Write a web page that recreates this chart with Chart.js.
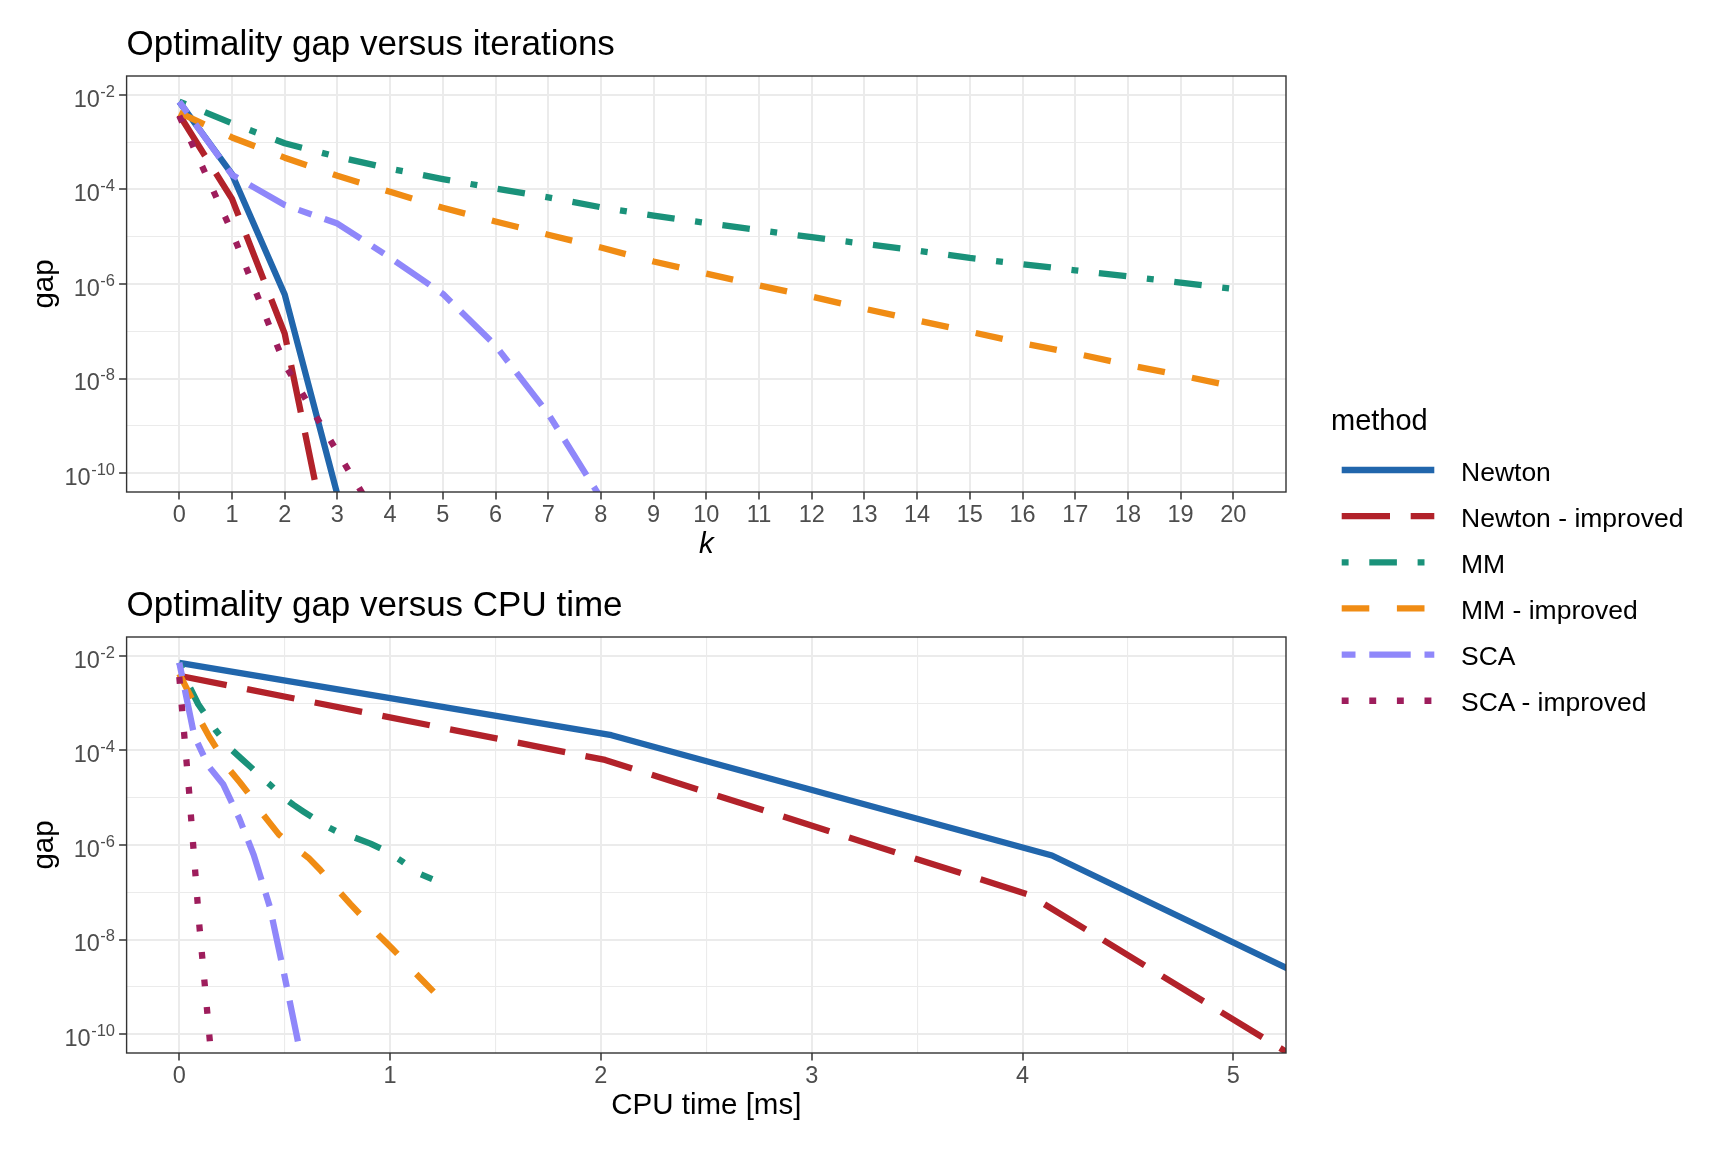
<!DOCTYPE html>
<html>
<head>
<meta charset="utf-8">
<script src="https://cdn.jsdelivr.net/npm/chart.js@4.4.1/dist/chart.umd.min.js"></script>
<style>
  html, body { margin: 0; padding: 0; background: #fff; }
  #page { position: relative; width: 1728px; height: 1152px; overflow: hidden; font-family: "Liberation Sans", Arial, sans-serif; }
  .box { position: absolute; left: 0; width: 1300px; height: 576px; }
  #legend { position: absolute; left: 0; top: 0; pointer-events: none; }
</style>
</head>
<body>
<div id="page">
  <div class="box" style="top:0"><canvas id="iterChart" width="1300" height="576"></canvas></div>
  <div class="box" style="top:576px"><canvas id="timeChart" width="1300" height="576"></canvas></div>
  <svg id="legend" width="1728" height="1152"></svg>
</div>
<script>
const FONT = '"Liberation Sans", Arial, sans-serif';

const methods = ["Newton", "Newton - improved", "MM", "MM - improved", "SCA", "SCA - improved"];

// optimality gap at iteration k = 0, 1, 2, ...
const gapNewton    = [7.1e-3, 2.1e-4, 6.0e-7, 3.5e-11];
const gapNewtonImp = [3.8e-3, 6.3e-5, 8.9e-8, 3.2e-13];
const gapMM = [7.2e-3, 2.5e-3, 9.5e-4, 4.9e-4, 2.75e-4, 1.66e-4, 1.05e-4, 6.8e-5, 4.2e-5, 2.8e-5,
  1.95e-5, 1.38e-5, 9.8e-6, 7.1e-6, 5.1e-6, 3.55e-6, 2.63e-6, 1.95e-6, 1.45e-6, 1.07e-6,
  7.9e-7, 6.0e-7, 4.5e-7, 3.4e-7, 2.5e-7, 1.9e-7];
const gapMMImp = [4.2e-3, 1.26e-3, 4.7e-4, 1.95e-4, 8.9e-5, 4.1e-5, 2.1e-5, 1.1e-5, 5.9e-6, 3.0e-6,
  1.66e-6, 9.3e-7, 5.4e-7, 3.0e-7, 1.7e-7, 9.8e-8, 5.6e-8, 3.4e-8, 1.95e-8, 1.17e-8,
  6.8e-9, 4.0e-9, 2.3e-9, 1.38e-9, 7.9e-10];
const gapSCA    = [7.2e-3, 2.04e-4, 4.7e-5, 1.9e-5, 3.6e-6, 6.2e-7, 5.0e-8, 1.8e-9, 2.95e-11];
const gapSCAImp = [3.6e-3, 1.26e-5, 2.0e-8, 2.8e-10, 4.0e-12];

// cumulative CPU time [ms] at each iteration
const timeNewton    = [0, 2.05, 4.14, 6.12];
const timeNewtonImp = [0, 2.02, 4.03, 6.03];
const timeMM = [0, 0.043, 0.09, 0.134, 0.171, 0.21, 0.247, 0.293, 0.345, 0.386,
  0.427, 0.463, 0.5, 0.541, 0.589, 0.644, 0.688, 0.745, 0.828, 0.907,
  0.97, 1.013, 1.057, 1.095, 1.136, 1.2];
const timeMMImp = [0, 0.059, 0.095, 0.142, 0.19, 0.234, 0.288, 0.337, 0.376, 0.427,
  0.473, 0.541, 0.612, 0.668, 0.715, 0.763, 0.812, 0.858, 0.905, 0.951,
  1.005, 1.055, 1.104, 1.153, 1.206];
const timeSCA    = [0, 0.071, 0.138, 0.209, 0.285, 0.353, 0.429, 0.498, 0.58];
const timeSCAImp = [0, 0.047, 0.095, 0.133, 0.17];

// ticks
const kTicks = [0, 1, 2, 3, 4, 5, 6, 7, 8, 9, 10, 11, 12, 13, 14, 15, 16, 17, 18, 19, 20];
const timeTicks = [0, 1, 2, 3, 4, 5];
const timeMinorTicks = [0.5, 1.5, 2.5, 3.5, 4.5];
const gapTickExps = [-10, -8, -6, -4, -2];
const gapMinorExps = [-9, -7, -5, -3];

const gaps = [gapNewton, gapNewtonImp, gapMM, gapMMImp, gapSCA, gapSCAImp];
const times = [timeNewton, timeNewtonImp, timeMM, timeMMImp, timeSCA, timeSCAImp];

// styles
const colors = ["#2166AC", "#B2222A", "#1A927A", "#F08C14", "#8F87FA", "#9E1D5C"];
const dashes = [[], [7, 3], [1, 3, 4, 3], [4, 4], [2, 2, 6, 2], [1, 3]];
const DASH_UNIT = 6.9;
const LINE_W = 6.3;

function makeDatasets(pointsFor) {
  return methods.map((m, i) => ({
    label: m,
    data: pointsFor(i),
    borderColor: colors[i],
    borderWidth: LINE_W,
    borderDash: dashes[i].map(d => d * DASH_UNIT),
    borderCapStyle: 'butt',
    borderJoinStyle: 'round',
    pointRadius: 0,
    tension: 0,
    fill: false,
    clip: 0,
    order: methods.length - i
  }));
}

const expOf = v => Math.round(Math.log10(v));

const panelBorder = {
  id: 'panelBorder',
  afterDraw(chart) {
    const a = chart.chartArea, ctx = chart.ctx;
    ctx.save();
    ctx.strokeStyle = '#333333';
    ctx.lineWidth = 1.4;
    ctx.strokeRect(a.left, a.top, a.right - a.left, a.bottom - a.top);
    ctx.restore();
  }
};

// "10" with a raised exponent, placed on the y scale ticks
const gapLabels = {
  id: 'gapLabels',
  afterDraw(chart) {
    const ys = chart.scales.y, ctx = chart.ctx;
    const right = chart.chartArea.left - 11.6;
    ctx.save();
    ctx.fillStyle = '#4D4D4D';
    ctx.textBaseline = 'alphabetic';
    gapTickExps.forEach(e => {
      const py = ys.getPixelForValue(Math.pow(10, e));
      const sup = String(e);
      ctx.font = '16.5px ' + FONT;
      const w = ctx.measureText(sup).width;
      ctx.textAlign = 'left';
      ctx.fillText(sup, right - w, py + 1.7);
      ctx.font = '23.5px ' + FONT;
      ctx.textAlign = 'right';
      ctx.fillText('10', right - w - 0.5, py + 11.7);
    });
    ctx.restore();
  }
};

function makeChart(canvasId, opts) {
  return new Chart(document.getElementById(canvasId), {
    type: 'line',
    data: { datasets: opts.datasets },
    options: {
      responsive: false,
      animation: false,
      layout: { padding: opts.padding },
      plugins: {
        legend: { display: false },
        tooltip: { enabled: false },
        title: {
          display: true,
          text: opts.title,
          align: 'start',
          fullSize: false,
          color: '#000',
          font: { family: FONT, size: 35, weight: 'normal' },
          padding: { top: 0, bottom: 9.9 }
        }
      },
      scales: {
        x: {
          type: 'linear',
          min: opts.xMin,
          max: opts.xMax,
          afterBuildTicks: s => { s.ticks = opts.xTicks.map(v => ({ value: v })); },
          afterFit: s => { s.height = 70.5; },
          ticks: {
            autoSkip: false,
            maxRotation: 0,
            padding: 1.5,
            color: '#4D4D4D',
            font: { family: FONT, size: 23.5 },
            callback: v => opts.xMajor.includes(v) ? String(v) : ''
          },
          grid: {
            color: '#EBEBEB',
            lineWidth: c => (c.tick && opts.xMajor.includes(c.tick.value)) ? 2 : 1.1,
            tickLength: 7.5,
            tickWidth: 1.5,
            tickColor: c => (c.tick && opts.xMajor.includes(c.tick.value)) ? '#333333' : 'rgba(0,0,0,0)'
          },
          border: { display: false },
          title: {
            display: true,
            text: opts.xTitle,
            color: '#000',
            font: { family: FONT, size: 29.5, style: opts.xTitleStyle },
            padding: 0
          }
        },
        y: {
          type: 'logarithmic',
          min: Math.pow(10, -10.4),
          max: Math.pow(10, -1.6),
          afterBuildTicks: s => {
            s.ticks = gapTickExps.concat(gapMinorExps).sort((a, b) => a - b)
              .map(e => ({ value: Math.pow(10, e) }));
          },
          afterFit: s => { s.width = 126.6; },
          ticks: { autoSkip: false, padding: 4, callback: () => '' },
          grid: {
            color: '#EBEBEB',
            lineWidth: c => (c.tick && expOf(c.tick.value) % 2 === 0) ? 2 : 1.1,
            tickLength: 7.5,
            tickWidth: 1.5,
            tickColor: c => (c.tick && expOf(c.tick.value) % 2 === 0) ? '#333333' : 'rgba(0,0,0,0)'
          },
          border: { display: false },
          title: {
            display: true,
            text: 'gap',
            color: '#000',
            font: { family: FONT, size: 29.5 },
            padding: { top: 27.3, bottom: 0 }
          }
        }
      }
    },
    plugins: [panelBorder, gapLabels]
  });
}

// top: gap vs iterations (k up to 20)
makeChart('iterChart', {
  title: 'Optimality gap versus iterations',
  xTitle: 'k',
  xTitleStyle: 'italic',
  xMin: -1,
  xMax: 21,
  xTicks: kTicks,
  xMajor: kTicks,
  padding: { left: 0, right: 14, top: 24.1, bottom: 13.5 },
  datasets: makeDatasets(i => gaps[i].map((g, k) => ({ x: k, y: g })).filter(p => p.x <= 20))
});

// bottom: gap vs CPU time
makeChart('timeChart', {
  title: 'Optimality gap versus CPU time',
  xTitle: 'CPU time [ms]',
  xTitleStyle: 'normal',
  xMin: -0.25,
  xMax: 5.25,
  xTicks: timeTicks.concat(timeMinorTicks).sort((a, b) => a - b),
  xMajor: timeTicks,
  padding: { left: 0, right: 14, top: 9.1, bottom: 28.5 },
  datasets: makeDatasets(i => times[i].map((t, k) => ({ x: t, y: gaps[i][k] })))
});

// legend
const svg = document.getElementById('legend');
const NS = 'http://www.w3.org/2000/svg';
function svgEl(tag, attrs, text) {
  const el = document.createElementNS(NS, tag);
  Object.entries(attrs).forEach(([k, v]) => el.setAttribute(k, v));
  if (text) el.textContent = text;
  svg.appendChild(el);
  return el;
}
svgEl('text', { x: 1331, y: 430, 'font-family': FONT, 'font-size': 29, fill: '#000' }, 'method');
methods.forEach((m, i) => {
  const y = 470 + i * 46.15;
  const line = { x1: 1341.7, x2: 1434.3, y1: y, y2: y, stroke: colors[i], 'stroke-width': LINE_W, 'stroke-linecap': 'butt' };
  if (dashes[i].length) line['stroke-dasharray'] = dashes[i].map(d => d * DASH_UNIT).join(' ');
  svgEl('line', line);
  svgEl('text', { x: 1461, y: y + 10.7, 'font-family': FONT, 'font-size': 26.5, fill: '#000' }, m);
});
</script>
</body>
</html>
